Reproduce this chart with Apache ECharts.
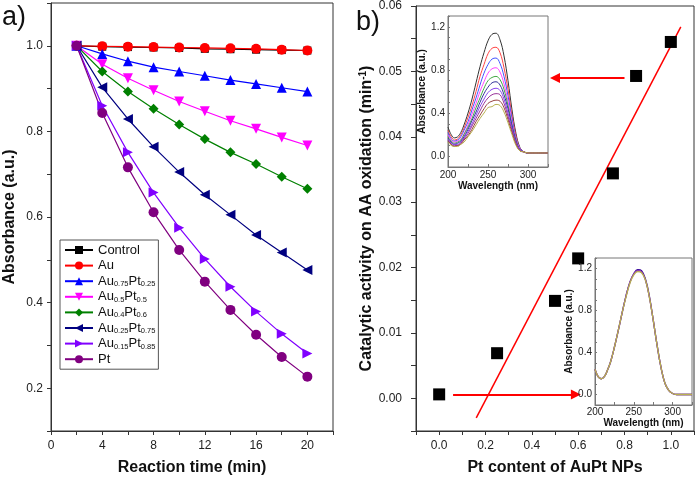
<!DOCTYPE html>
<html><head><meta charset="utf-8">
<script src="https://cdn.jsdelivr.net/npm/echarts@6/dist/echarts.min.js"></script>
<style>html,body{margin:0;padding:0;background:#fff}#c{width:697px;height:481px}</style>
</head><body><div id="c"></div>
<script>
// ---- Panel a data ----
const times = [2,4,6,8,10,12,14,16,18,20];
const control = [1.000,0.998,0.997,0.996,0.995,0.993,0.992,0.991,0.990,0.989];
const au = [1.000,0.999,0.998,0.997,0.996,0.995,0.994,0.993,0.991,0.989];
const au75pt25 = [1.000,0.981,0.964,0.950,0.940,0.930,0.920,0.911,0.902,0.893];
const au50pt50 = [1.000,0.957,0.924,0.896,0.870,0.847,0.825,0.806,0.786,0.767];
const au40pt60 = [1.000,0.940,0.893,0.853,0.816,0.782,0.751,0.724,0.694,0.666];
const au25pt75 = [1.000,0.903,0.829,0.764,0.705,0.652,0.605,0.558,0.517,0.476];
const au15pt85 = [1.000,0.860,0.751,0.657,0.575,0.502,0.437,0.379,0.327,0.281];
const ptOnly = [1.000,0.843,0.716,0.611,0.523,0.449,0.383,0.325,0.273,0.227];
const seriesNamesA = ['Control','Au','Au0.75Pt0.25','Au0.5Pt0.5','Au0.4Pt0.6','Au0.25Pt0.75','Au0.15Pt0.85','Pt'];

// ---- Panel b data ----
const ptContent = [0, 0.25, 0.5, 0.6, 0.75, 0.85, 1.0];
const activity = [0.0006, 0.0069, 0.0149, 0.0214, 0.0344, 0.0493, 0.0545];
const fitX = [0.16, 1.043];
const fitY = [-0.003, 0.0568];
const arrow1 = [[0.80, 0.0490], [0.50, 0.0490]];
const arrow2 = [[0.06, 0.0006], [0.59, 0.0006]];

// ---- Inset spectra (wavelength nm) ----
const wl = [200,204,208,212,216,220,225,230,235,240,245,250,255,260,265,270,275,280,285,290,295,300,310,325];
const sp1 = [0.27,0.20,0.17,0.18,0.22,0.29,0.40,0.53,0.68,0.83,0.96,1.07,1.13,1.14,1.08,0.93,0.70,0.43,0.21,0.08,0.04,0.03,0.03,0.03];
const sp2 = [0.24,0.18,0.15,0.16,0.20,0.26,0.36,0.47,0.60,0.74,0.85,0.95,1.00,1.01,0.96,0.82,0.62,0.38,0.19,0.07,0.04,0.03,0.03,0.03];
const sp3 = [0.22,0.16,0.14,0.15,0.18,0.24,0.32,0.43,0.54,0.66,0.77,0.85,0.90,0.91,0.86,0.74,0.56,0.35,0.17,0.07,0.04,0.03,0.03,0.03];
const sp4 = [0.20,0.15,0.13,0.14,0.16,0.21,0.29,0.39,0.49,0.60,0.69,0.77,0.81,0.82,0.78,0.67,0.51,0.31,0.16,0.07,0.04,0.03,0.03,0.03];
const sp5 = [0.18,0.14,0.12,0.13,0.15,0.20,0.27,0.35,0.45,0.54,0.63,0.70,0.73,0.74,0.71,0.62,0.47,0.29,0.15,0.06,0.04,0.03,0.03,0.03];
const sp6 = [0.17,0.13,0.11,0.12,0.14,0.18,0.25,0.33,0.41,0.50,0.58,0.64,0.68,0.69,0.66,0.57,0.44,0.28,0.14,0.06,0.04,0.03,0.03,0.03];
const sp7 = [0.16,0.12,0.11,0.11,0.13,0.17,0.23,0.30,0.38,0.46,0.53,0.59,0.62,0.63,0.61,0.53,0.40,0.26,0.13,0.06,0.04,0.03,0.03,0.03];
const sp8 = [0.15,0.11,0.10,0.10,0.12,0.16,0.21,0.28,0.35,0.42,0.49,0.54,0.57,0.58,0.57,0.49,0.37,0.24,0.12,0.05,0.04,0.03,0.03,0.03];
const sp9 = [0.14,0.11,0.09,0.10,0.11,0.15,0.19,0.25,0.32,0.38,0.44,0.49,0.51,0.52,0.51,0.45,0.34,0.22,0.11,0.05,0.04,0.03,0.03,0.03];
const sp10 = [0.13,0.10,0.09,0.09,0.11,0.13,0.18,0.23,0.29,0.35,0.40,0.45,0.46,0.48,0.47,0.41,0.31,0.20,0.10,0.05,0.04,0.03,0.03,0.03];
const wl2 = [200,204,208,212,216,220,225,230,235,240,245,250,255,260,265,270,275,280,285,290,295,300,305,310,325];
const ctl1 = [0.24,0.17,0.15,0.17,0.23,0.31,0.45,0.61,0.78,0.94,1.07,1.15,1.19,1.18,1.10,0.94,0.71,0.47,0.26,0.11,0.04,0.01,0.00,0.00,0.00];
const ctl2 = [0.24,0.17,0.15,0.17,0.23,0.31,0.45,0.61,0.78,0.94,1.07,1.15,1.18,1.17,1.09,0.93,0.71,0.47,0.26,0.11,0.04,0.01,0.00,0.00,0.00];
const ctl3 = [0.24,0.17,0.15,0.17,0.23,0.31,0.45,0.61,0.78,0.93,1.06,1.14,1.17,1.16,1.09,0.93,0.71,0.47,0.26,0.11,0.04,0.01,0.00,0.00,0.00];

const FONT = "'Liberation Sans', Arial, sans-serif";
const AX = '#333';
const zip = (xs, ys) => xs.map((x, i) => [x, ys[i]]);

function axisBase(extra) {
  return Object.assign({
    type: 'value',
    axisLine: { show: true, onZero: false, lineStyle: { color: AX, width: 1 } },
    axisTick: { show: true, inside: false, length: 4, lineStyle: { color: AX } },
    splitLine: { show: false },
    axisLabel: { color: '#222', fontFamily: FONT, fontSize: 12 },
    nameTextStyle: { color: '#111', fontFamily: FONT, fontWeight: 'bold', fontSize: 16 },
    nameLocation: 'middle'
  }, extra);
}

const chart = echarts.init(document.getElementById('c'), null, { renderer: 'canvas' });

const colorsA = ['#000000','#ff0000','#0000ff','#ff00ff','#008000','#000080','#8000ff','#800080'];
const symbolsA = ['rect','circle','triangle','triangle','diamond','triangle','triangle','circle'];
const rotA = [0,0,0,180,0,90,-90,0];
const sizesA = [8,10,10,10,10,10,10,10];
const dataA = [control, au, au75pt25, au50pt50, au40pt60, au25pt75, au15pt85, ptOnly];

const seriesA = dataA.map((d, i) => ({
  name: seriesNamesA[i], type: 'line', xAxisIndex: 0, yAxisIndex: 0,
  data: zip(times, d), symbol: symbolsA[i], symbolRotate: rotA[i], symbolSize: sizesA[i],
  showAllSymbol: true, lineStyle: { color: colorsA[i], width: 1.2 },
  itemStyle: { color: colorsA[i] }, z: 3
}));

const specColors = ['#333333','#ff4444','#4455ff','#ff44ff','#44aa44','#333399','#8844ee','#993399','#994444','#b8b050'];
const specData = [sp1,sp2,sp3,sp4,sp5,sp6,sp7,sp8,sp9,sp10];
const seriesInset1 = specData.map((d, i) => ({
  type: 'line', xAxisIndex: 2, yAxisIndex: 2, data: zip(wl, d), smooth: 0.4,
  symbol: 'none', lineStyle: { color: specColors[i], width: 1 }, z: 12, silent: true
}));
const seriesInset2 = [[ctl1,'#330099'],[ctl2,'#8833aa'],[ctl3,'#b8b050']].map(([d,c]) => ({
  type: 'line', xAxisIndex: 3, yAxisIndex: 3, data: zip(wl2, d), smooth: 0.4,
  symbol: 'none', lineStyle: { color: c, width: 1.3 }, z: 12, silent: true
}));

const option = {
  animation: false,
  backgroundColor: '#fff',
  textStyle: { fontFamily: FONT },
  grid: [
    { left: 51, top: 3, width: 282, height: 428, show: true, borderColor: AX, borderWidth: 1, backgroundColor: 'transparent', containLabel: false },
    { left: 416, top: 6, width: 278, height: 425, show: true, borderColor: AX, borderWidth: 1, containLabel: false },
    { left: 448, top: 16, width: 100, height: 151, show: true, borderColor: '#777', borderWidth: 1, backgroundColor: '#fff', z: 10 },
    { left: 595, top: 258, width: 97, height: 147, show: true, borderColor: '#777', borderWidth: 1, backgroundColor: '#fff', z: 10 }
  ],
  xAxis: [
    axisBase({ gridIndex: 0, min: 0, max: 22, interval: 2, name: 'Reaction time (min)', nameGap: 29,
      axisLabel: { color: '#222', fontFamily: FONT, fontSize: 12, margin: 9,
        formatter: v => (Math.round(v) % 4 === 0 && v <= 20) ? String(Math.round(v)) : '' } }),
    axisBase({ gridIndex: 1, min: -0.1, max: 1.1, interval: 0.1, name: 'Pt content of AuPt NPs', nameGap: 29,
      axisLabel: { color: '#222', fontFamily: FONT, fontSize: 12, margin: 9,
        formatter: v => { const k = Math.round(v * 10); return (k % 2 === 0 && k >= 0 && k <= 10) ? (k / 10).toFixed(1) : ''; } } }),
    axisBase({ gridIndex: 2, min: 200, max: 325, interval: 25, name: 'Wavelength (nm)', nameGap: 13, z: 11,
      axisLine: { show: true, onZero: false, lineStyle: { color: '#777' } },
      axisTick: { show: true, inside: true, length: 3, lineStyle: { color: '#777' } },
      nameTextStyle: { color: '#111', fontFamily: FONT, fontWeight: 'bold', fontSize: 10 },
      axisLabel: { color: '#222', fontFamily: FONT, fontSize: 10, margin: 3,
        formatter: v => (v % 50 === 0 && v <= 300) ? String(v) : '' } }),
    axisBase({ gridIndex: 3, min: 200, max: 325, interval: 25, name: 'Wavelength (nm)', nameGap: 12, z: 11,
      axisLine: { show: true, onZero: false, lineStyle: { color: '#777' } },
      axisTick: { show: true, inside: true, length: 3, lineStyle: { color: '#777' } },
      nameTextStyle: { color: '#111', fontFamily: FONT, fontWeight: 'bold', fontSize: 10 },
      axisLabel: { color: '#222', fontFamily: FONT, fontSize: 10, margin: 2,
        formatter: v => (v % 50 === 0 && v <= 300) ? String(v) : '' } })
  ],
  yAxis: [
    axisBase({ gridIndex: 0, min: 0.1, max: 1.1, interval: 0.1, name: 'Absorbance (a.u.)', nameGap: 33,
      axisLabel: { color: '#222', fontFamily: FONT, fontSize: 12, margin: 8,
        formatter: v => { const k = Math.round(v * 10); return (k % 2 === 0 && k >= 2 && k <= 10) ? (k / 10).toFixed(1) : ''; } } }),
    axisBase({ gridIndex: 1, min: -0.005, max: 0.06, interval: 0.005, nameGap: 40,
      name: 'Catalytic activity on AA oxidation (min{sup|-1})',
      nameTextStyle: { color: '#111', fontFamily: FONT, fontWeight: 'bold', fontSize: 16,
        rich: { sup: { fontFamily: FONT, fontWeight: 'bold', fontSize: 10, verticalAlign: 'top', color: '#111' } } },
      axisTick: { show: true, inside: false, length: 5, lineStyle: { color: AX } },
      axisLabel: { color: '#222', fontFamily: FONT, fontSize: 12, margin: 14,
        formatter: v => { const k = Math.round(v * 1000); return (k % 10 === 0 && k >= 0) ? (k / 1000).toFixed(2) : ''; } } }),
    axisBase({ gridIndex: 2, min: -0.1, max: 1.3, interval: 0.1, name: 'Absorbance (a.u.)', nameGap: 18, z: 11,
      axisLine: { show: true, onZero: false, lineStyle: { color: '#777' } },
      axisTick: { show: true, inside: true, length: 2, lineStyle: { color: '#777' } },
      nameTextStyle: { color: '#111', fontFamily: FONT, fontWeight: 'bold', fontSize: 10 },
      axisLabel: { color: '#222', fontFamily: FONT, fontSize: 10, margin: 3,
        formatter: v => { const k = Math.round(v * 10); return (k % 4 === 0 && k >= 0 && k <= 12) ? (k / 10).toFixed(1) : ''; } } }),
    axisBase({ gridIndex: 3, min: -0.1, max: 1.3, interval: 0.1, name: 'Absorbance (a.u.)', nameGap: 17, z: 11,
      axisLine: { show: true, onZero: false, lineStyle: { color: '#777' } },
      axisTick: { show: true, inside: true, length: 2, lineStyle: { color: '#777' } },
      nameTextStyle: { color: '#111', fontFamily: FONT, fontWeight: 'bold', fontSize: 10 },
      axisLabel: { color: '#222', fontFamily: FONT, fontSize: 10, margin: 3,
        formatter: v => { const k = Math.round(v * 10); return (k % 4 === 0 && k >= 0 && k <= 12) ? (k / 10).toFixed(1) : ''; } } })
  ],
  legend: {
    data: seriesNamesA, orient: 'vertical', left: 60, top: 240,
    itemWidth: 28, itemHeight: 10, itemGap: 1.6, padding: [3, 3, 3, 4],
    borderColor: '#555', borderWidth: 1, backgroundColor: '#fff',
    textStyle: { fontFamily: FONT, fontSize: 13, color: '#111', lineHeight: 14,
      rich: { s: { fontFamily: FONT, fontSize: 7.5, verticalAlign: 'bottom', lineHeight: 14, color: '#111' } } },
    formatter: n => n.replace(/(\d\.\d+)/g, '{s|$1}')
  },
  graphic: [
    { type: 'text', left: 2, top: 4, style: { text: 'a)', fontFamily: FONT, fontSize: 27, fill: '#111' } },
    { type: 'text', left: 356, top: 9, style: { text: 'b)', fontFamily: FONT, fontSize: 27, fill: '#111' } }
  ],
  series: [
    ...seriesA,
    { type: 'line', xAxisIndex: 1, yAxisIndex: 1, data: zip(fitX, fitY), symbol: 'none',
      lineStyle: { color: '#ff0000', width: 1.5 }, z: 3, silent: true },
    { type: 'scatter', xAxisIndex: 1, yAxisIndex: 1, data: zip(ptContent, activity), symbol: 'rect',
      symbolSize: 12, itemStyle: { color: '#000', opacity: 1 }, z: 4 },
    { type: 'lines', coordinateSystem: 'cartesian2d', xAxisIndex: 1, yAxisIndex: 1,
      symbol: ['none', 'triangle'], symbolSize: 10, z: 4, silent: true,
      lineStyle: { color: '#ff0000', width: 2, opacity: 1 },
      data: [{ coords: arrow1 }, { coords: arrow2 }] },
    ...seriesInset1,
    ...seriesInset2
  ]
};
chart.setOption(option);
</script>
</body></html>
